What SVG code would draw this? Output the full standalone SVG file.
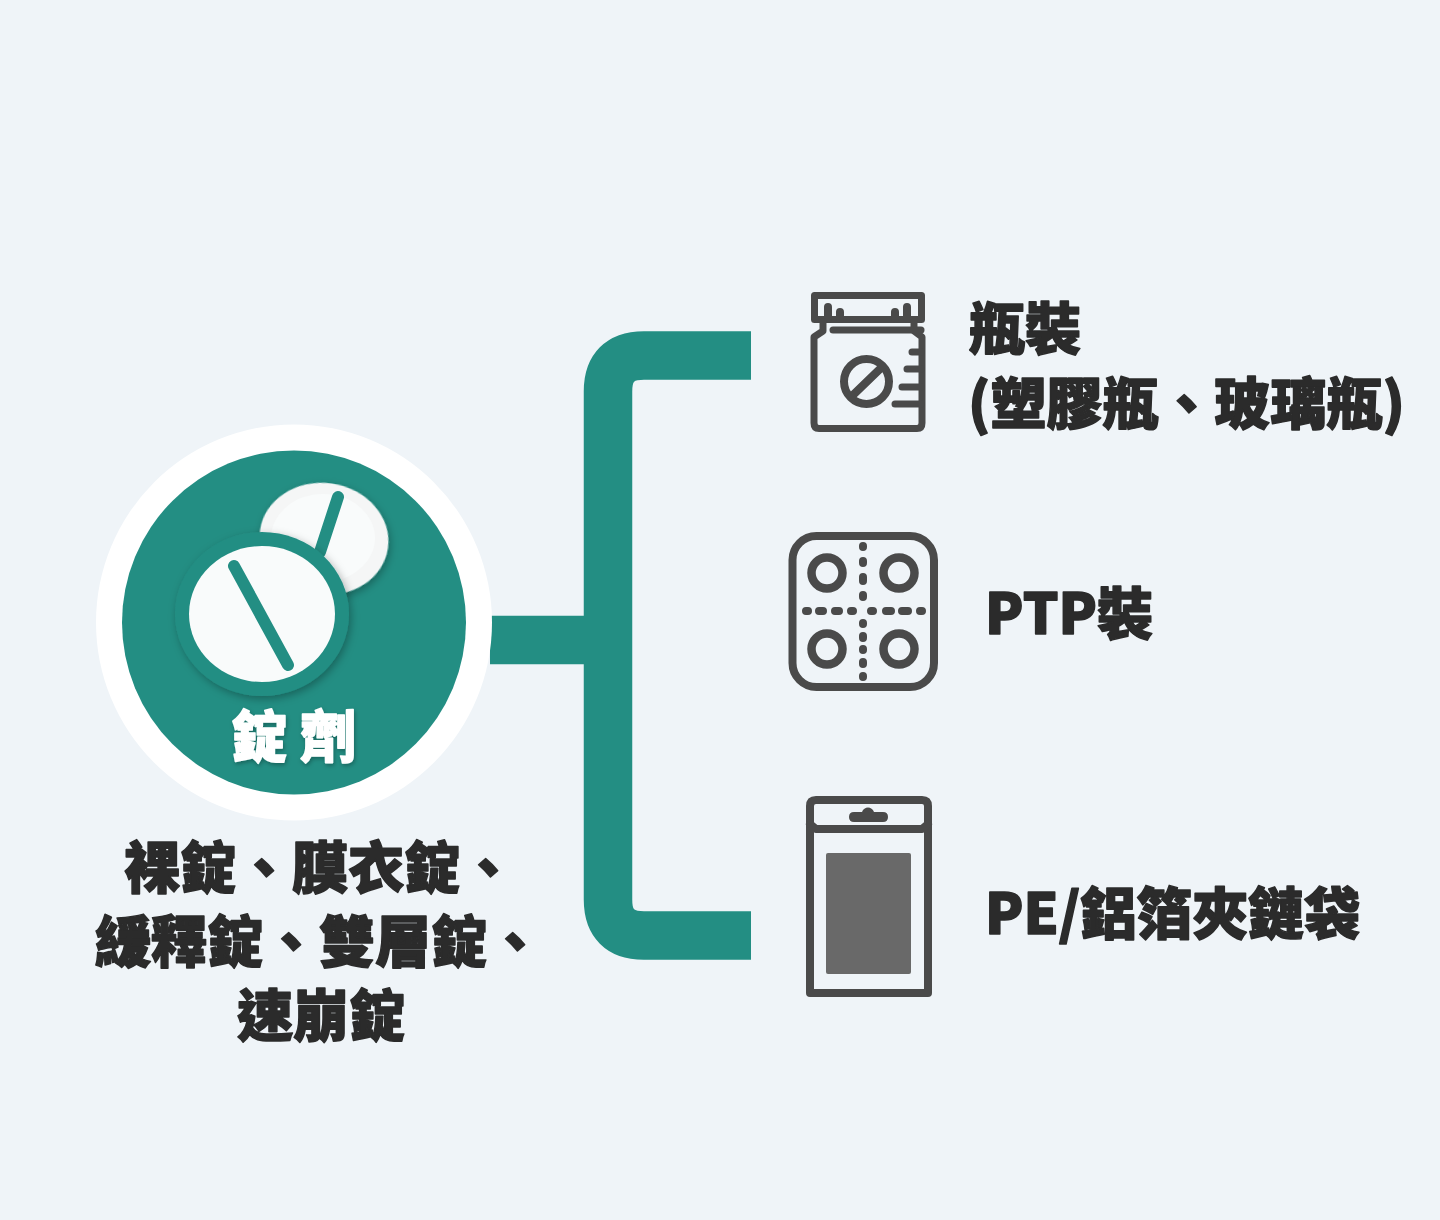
<svg xmlns="http://www.w3.org/2000/svg" width="1440" height="1220" viewBox="0 0 1440 1220">
<defs>
<style>
.t{font-family:"Noto Sans CJK TC","Noto Sans",sans-serif;font-weight:900;font-size:56px;fill:#2b2b2b;stroke:#2b2b2b;stroke-width:1.5px;stroke-linejoin:round}
.ic{fill:none;stroke:#4a4a4a;stroke-linecap:round;stroke-linejoin:round}
</style>
<filter id="sh" x="-20%" y="-20%" width="150%" height="150%"><feDropShadow dx="2" dy="3" stdDeviation="4" flood-color="#000" flood-opacity=".3"/></filter>
<filter id="ts" x="-20%" y="-20%" width="140%" height="140%"><feDropShadow dx="1" dy="2" stdDeviation="2" flood-color="#000" flood-opacity=".3"/></filter>
</defs>
<rect width="1440" height="1220" fill="#eff4f8"/>
<g id="connectors">
<path d="M490 640H608M751 355.500H644Q608 355.500 608 391.500V899.500Q608 935.500 644 935.500H751" fill="none" stroke="#238e83" stroke-width="48.500"/>
</g>
<g id="tablet">
<circle cx="294" cy="622.500" r="198" fill="#fff"/>
<circle cx="294" cy="622.500" r="172" fill="#238e83"/>
<ellipse cx="324" cy="539" rx="64.500" ry="56" transform="rotate(8 324 539)" fill="#f5f6f6" filter="url(#sh)"/>
<ellipse cx="323" cy="538" rx="52" ry="44" fill="#f9fbfb"/>
<path d="M338 497L320 552" stroke="#238e83" stroke-width="12" stroke-linecap="round"/>
<ellipse cx="262" cy="614" rx="87" ry="82" fill="#238e83" filter="url(#sh)"/>
<ellipse cx="262" cy="614" rx="73" ry="68" fill="#f9fbfb"/>
<path d="M234 566L288 665" stroke="#238e83" stroke-width="12" stroke-linecap="round"/>
<text x="231" y="757" class="t" style="fill:#fff;stroke:#fff;letter-spacing:13px" filter="url(#ts)">錠劑</text>
</g>
<g id="tablet-types">
<text x="124" y="888" class="t">裸錠、膜衣錠、</text>
<text x="95" y="962" class="t">緩釋錠、雙層錠、</text>
<text x="237" y="1036" class="t">速崩錠</text>
</g>
<g id="bottle">
<g class="ic" stroke-width="7">
<path d="M814.500 295.500H921.500V319.500H814.500Z"/>
<path d="M828 319V307M840 319V312M895 319V312M907 319V307" stroke-width="8"/>
<path d="M823 322V331L814 337V423Q814 428.500 819 428.500H917Q922 428.500 922 423V337L914 331V322"/>
<path d="M833 330H921"/>
<path d="M912 352H921M907 369H921M902 387H921M895 404H921"/>
<circle cx="866.500" cy="381.500" r="22.500" stroke-width="8"/>
<path d="M852 396L882 367" stroke-width="8"/>
</g>
</g>
<g id="ptp">
<g class="ic">
<rect x="792.500" y="536" width="141.500" height="151" rx="24" stroke-width="8"/>
<g stroke-width="8.500"><circle cx="827" cy="573" r="15.500"/><circle cx="899" cy="573" r="15.500"/><circle cx="827" cy="649" r="15.500"/><circle cx="899" cy="649" r="15.500"/></g>
<path stroke-width="8" d="M863 546V547M863 561V563M863 577V581M863 595V597M863 623V624M863 636V638M863 649V650M863 662V664M863 676V677M806 611H808M819 611H823M835 611H839M851 611H853M871 611H873M886 611H891M902 611H908M920 611H922"/>
</g>
</g>
<g id="bag">
<g class="ic" stroke-width="8">
<path d="M816 800H922Q928 800 928 806V993H810V806Q810 800 816 800Z"/>
<path d="M810 824L816 829H922L928 824"/>
</g>
<path d="M854 812H862C864 806 872 806 874 812H883Q888 812 888 817T883 822H854Q849 822 849 817T854 812Z" fill="#4a4a4a"/>
<rect x="826" y="853" width="85" height="121" rx="2" fill="#696969"/>
</g>
<g id="labels">
<text x="969" y="349" class="t">瓶裝</text>
<text x="968" y="424" class="t">(塑膠瓶、玻璃瓶)</text>
<text x="985" y="634" class="t">PTP裝</text>
<text x="985" y="934" class="t">PE/鋁箔夾鏈袋</text>
</g>
</svg>
